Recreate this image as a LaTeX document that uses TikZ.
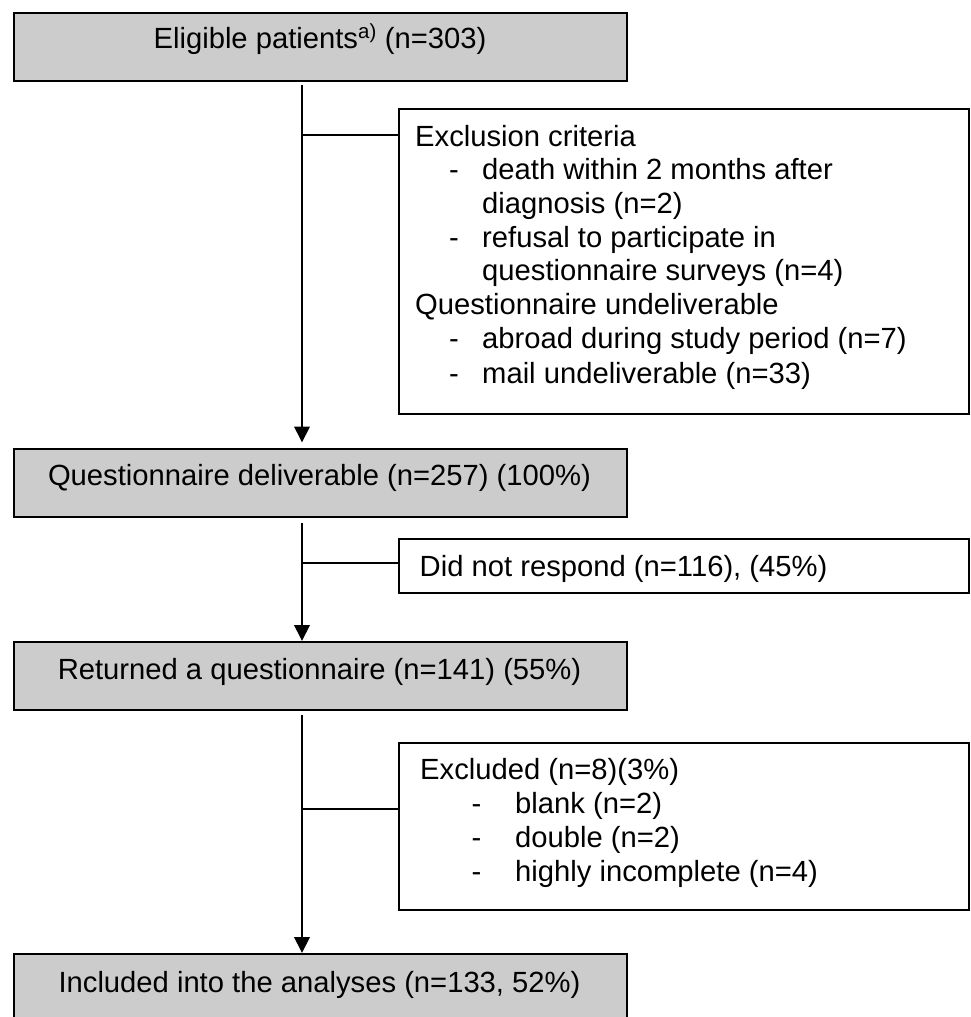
\documentclass[tikz,border=0pt]{standalone}
\usepackage{fontspec}
\setmainfont{Liberation Sans}
\usetikzlibrary{arrows.meta}
\begin{document}
\begin{tikzpicture}[x=1pt,y=-1pt,
  every node/.style={font=\fontsize{29.2}{33.5}\selectfont},
  gbox/.style={draw=black, line width=2.3pt, fill={rgb,255:red,204;green,204;blue,204}, rectangle, inner sep=0, anchor=north west},
  wbox/.style={draw=black, line width=2.3pt, fill=white, rectangle, inner sep=0, anchor=north west},
  txt/.style={inner sep=0, anchor=base west},
  ctxt/.style={inner sep=0, anchor=base},
  conn/.style={line width=2pt, black},
  arr/.style={conn, -{Triangle[length=16pt,width=15.5pt]}}
]
\useasboundingbox (0,0) rectangle (970,1017);
\clip (0,0) rectangle (970,1017);

% main boxes
\node[gbox, minimum width=613pt, minimum height=68pt] (b1) at (13,11.5) {};
\node[ctxt] (t1) at (320,48) {Eligible patients\textsuperscript{a)} (n=303)};
\node[gbox, minimum width=613pt, minimum height=68pt] (b2) at (13,448) {};
\node[ctxt] (t2) at (319.5,485) {Questionnaire deliverable (n=257) (100\%)};
\node[gbox, minimum width=613pt, minimum height=68pt] (b3) at (13,641) {};
\node[ctxt] (t3) at (319.5,679) {Returned a questionnaire (n=141) (55\%)};
\node[gbox, minimum width=613pt, minimum height=80pt] (b4) at (13,953) {};
\node[ctxt] (t4) at (319.5,992) {Included into the analyses (n=133, 52\%)};

% side boxes
\node[wbox, minimum width=570pt, minimum height=305pt] (x1) at (398,108) {};
\node[txt] (x1a) at (415,146) {Exclusion criteria};
\node[txt] (x1b) at (449,179) {-};
\node[txt] (x1c) at (482,179) {death within 2 months after};
\node[txt] (x1d) at (482,213) {diagnosis (n=2)};
\node[txt] (x1e) at (449,247) {-};
\node[txt] (x1f) at (482,247) {refusal to participate in};
\node[txt] (x1g) at (482,280) {questionnaire surveys (n=4)};
\node[txt] (x1h) at (415,314) {Questionnaire undeliverable};
\node[txt] (x1i) at (449,348) {-};
\node[txt] (x1j) at (482,348) {abroad during study period (n=7)};
\node[txt] (x1k) at (449,383) {-};
\node[txt] (x1l) at (482,383) {mail undeliverable (n=33)};

\node[wbox, minimum width=570pt, minimum height=54pt] (x2) at (398,538) {};
\node[txt] (x2a) at (419.5,576) {Did not respond (n=116), (45\%)};

\node[wbox, minimum width=570pt, minimum height=167pt] (x3) at (398,742) {};
\node[txt] (x3a) at (420,779) {Excluded (n=8)(3\%)};
\node[txt] (x3b) at (471.5,813) {-};
\node[txt] (x3c) at (515,813) {blank (n=2)};
\node[txt] (x3d) at (471.5,847) {-};
\node[txt] (x3e) at (515,847) {double (n=2)};
\node[txt] (x3f) at (471.5,881) {-};
\node[txt] (x3g) at (515,881) {highly incomplete (n=4)};

% connectors
\coordinate (spine) at (302,0);
\coordinate (br1) at (0,135);
\coordinate (br2) at (0,563);
\coordinate (br3) at (0,809);

\draw[arr] ([yshift=-3.5pt]b1.south -| spine) -- ([yshift=5.5pt]b2.north -| spine);
\draw[conn] (spine |- br1) -- (x1.west |- br1);
\draw[arr] ([yshift=-5pt]b2.south -| spine) -- (b3.north -| spine);
\draw[conn] (spine |- br2) -- (x2.west |- br2);
\draw[arr] ([yshift=-4pt]b3.south -| spine) -- (b4.north -| spine);
\draw[conn] (spine |- br3) -- (x3.west |- br3);
\end{tikzpicture}
\end{document}
